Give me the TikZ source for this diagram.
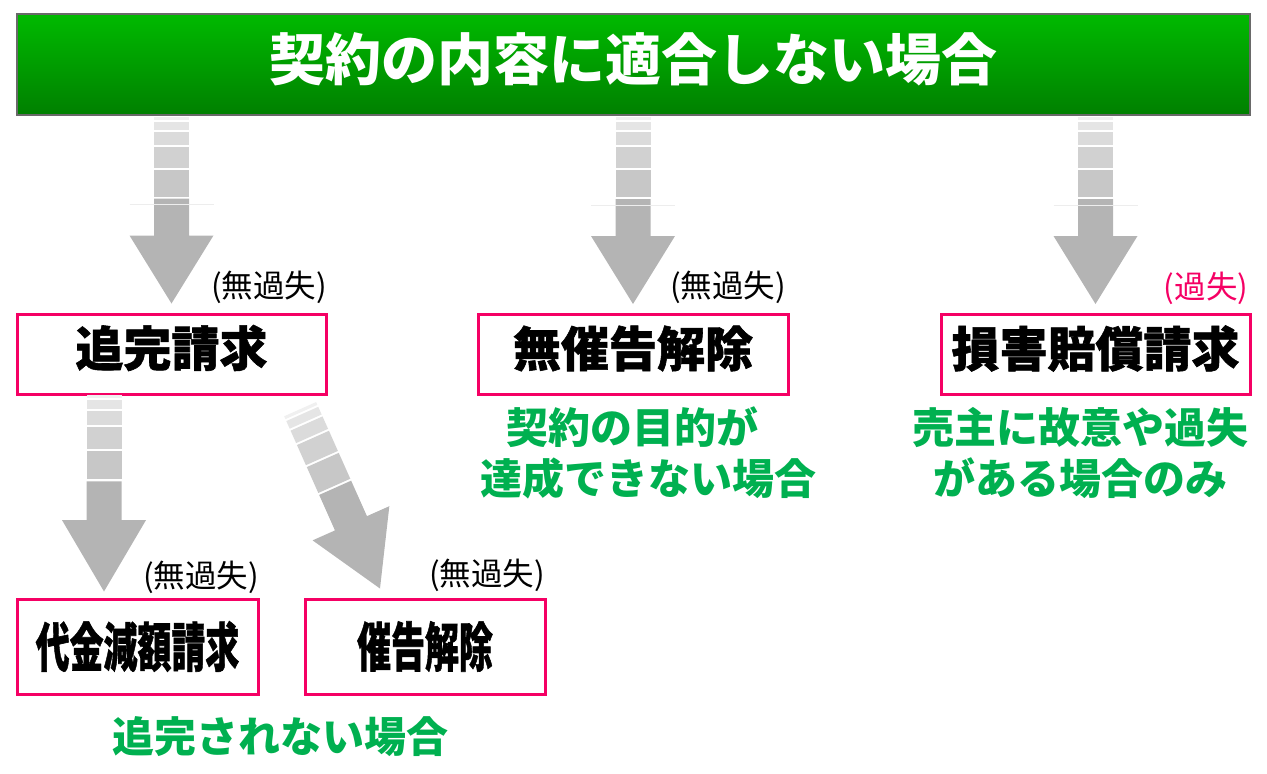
\documentclass[tikz,border=0pt]{standalone}
\usepackage{fontspec}
\usepackage{graphicx}
\setmainfont{Noto Sans CJK JP}
\newfontfamily\boxfont{Noto Sans CJK JP}[BoldFeatures={FakeBold=1.2}]

\definecolor{boxpink}{RGB}{245,0,100}
\definecolor{notegreen}{RGB}{0,176,80}
\definecolor{titletop}{RGB}{0,186,0}
\definecolor{titlebottom}{RGB}{0,128,0}
\definecolor{titleedge}{RGB}{105,105,105}
\definecolor{arrowgray}{RGB}{180,180,180}

\newcommand\lift[1]{\raisebox{6pt}[\height][\depth]{#1}}

\tikzset{
  kbox/.style={draw=boxpink, line width=3pt, minimum height=80pt, inner sep=0pt,
    font=\boxfont\bfseries\fontsize{48}{48}\selectfont},
  nlabel/.style={inner sep=0pt, font=\fontsize{31.5}{31.5}\selectfont},
  gnote/.style={inner sep=0pt, text=notegreen, align=center,
    font=\bfseries\fontsize{42}{51}\selectfont},
  fatarrow/.pic={
    \fill[arrowgray] (-17.5,-105) -- (17.5,-105) -- (17.5,-68) -- (42,-68)
      -- (0,0) -- (-42,-68) -- (-17.5,-68) -- cycle;
    \foreach \ya/\yb/\g in {-107/-134/22,-136/-157/18,-159/-172/14,-174/-182/10,-184/-187/6}
      \fill[black!\g] (-17.5,\ya) rectangle (17.5,\yb);
  }
}

\begin{document}
\begin{tikzpicture}[x=1pt,y=-1pt]
\useasboundingbox (0,0) rectangle (1267,774);

% title bar
\node (title) [draw=titleedge, line width=2pt, top color=titletop, bottom color=titlebottom,
  minimum width=1233pt, minimum height=101pt] at (633,64) {};
\node (titletext) [text=white, font=\bfseries\fontsize{56}{56}\selectfont] at (633,59)
  {契約の内容に適合しない場合};

% remedies
\node (zk) [kbox, minimum width=309pt] at (171.5,354) {\lift{追完請求}};
\node (mk) [kbox, minimum width=310pt] at (633,354.5) {\lift{無催告解除}};
\node (sb) [kbox, minimum width=309pt] at (1095.5,354.5) {\lift{損害賠償請求}};
\node (dg) [kbox, minimum width=241pt, minimum height=95pt,
  font=\boxfont\bfseries\fontsize{53}{53}\selectfont] at (137.5,646.5) {\scalebox{0.64}[1]{代金減額請求}};
\node (sk) [kbox, minimum width=240pt, minimum height=95pt,
  font=\boxfont\bfseries\fontsize{53}{53}\selectfont] at (425,646.5) {\scalebox{0.64}[1]{催告解除}};

% arrows
\foreach \n in {zk,mk,sb} {
  \pic at ([yshift=9pt]\n.north) {fatarrow};
  \draw[black!7, line width=1pt] ([xshift=-42pt,yshift=108pt]\n.north) -- ++(84,0);
}
\pic[yscale=1.05] at ([xshift=-33.5pt,yshift=6pt]dg.north) {fatarrow};
\pic[rotate=24, yscale=1.05] at ([xshift=-45pt,yshift=9pt]sk.north) {fatarrow};

% fault labels
\node (l1) [nlabel] at (269,287) {(無過失)};
\node (l2) [nlabel] at (728,287) {(無過失)};
\node (l3) [nlabel, text=boxpink] at (1206,288) {(過失)};
\node (l4) [nlabel] at (201,577) {(無過失)};
\node (l5) [nlabel] at (487,575) {(無過失)};

% conditions
\node (g1) [gnote] at (632,427) {契約の目的が};
\node (g2) [gnote] at (648,478) {達成できない場合};
\node (g3) [gnote] at (1080,453) {売主に故意や過失\\がある場合のみ};
\node (g4) [gnote] at (280,737) {追完されない場合};
\end{tikzpicture}
\end{document}
